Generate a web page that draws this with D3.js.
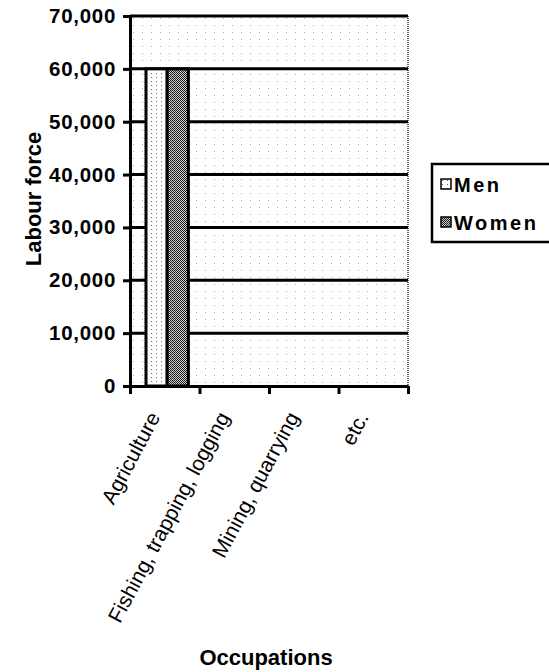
<!DOCTYPE html>
<html>
<head>
<meta charset="utf-8">
<script src="https://cdn.jsdelivr.net/npm/d3@7"></script>
<style>
  body { margin: 0; background: #fff; }
  text { font-family: "Liberation Sans", Arial, sans-serif; fill: #000; }
</style>
</head>
<body>
<div id="chart"></div>
<script>
// chart values
var categories = ["Agriculture", "Fishing, trapping, logging", "Mining, quarrying", "etc."];
var seriesNames = ["Men", "Women"];
var menValues = [60000, 0, 0, 0];
var womenValues = [60000, 0, 0, 0];
var yTicks = [0, 10000, 20000, 30000, 40000, 50000, 60000, 70000];

var data = categories.map(function(c, i) {
  return {cat: c, Men: menValues[i], Women: womenValues[i]};
});

var W = 549, H = 672;
var margin = {top: 16, left: 130, right: 141, bottom: 286};
var width = W - margin.left - margin.right,
    height = H - margin.top - margin.bottom;

var svg = d3.select("#chart").append("svg")
  .attr("width", W)
  .attr("height", H);

// fill patterns
var defs = svg.append("defs");
var bg = defs.append("pattern").attr("id", "bgDots")
  .attr("width", 9).attr("height", 7).attr("patternUnits", "userSpaceOnUse");
bg.append("rect").attr("width", 9).attr("height", 7).attr("fill", "#fff");
bg.append("rect").attr("x", 3).attr("y", 2).attr("width", 1).attr("height", 1).attr("fill", "#aaa");

var menPat = defs.append("pattern").attr("id", "menFill")
  .attr("width", 5).attr("height", 4).attr("patternUnits", "userSpaceOnUse");
menPat.append("rect").attr("width", 5).attr("height", 4).attr("fill", "#fff");
menPat.append("rect").attr("x", 1).attr("y", 1).attr("width", 1).attr("height", 1).attr("fill", "#666");

var womenPat = defs.append("pattern").attr("id", "womenFill")
  .attr("width", 2).attr("height", 2).attr("patternUnits", "userSpaceOnUse");
womenPat.append("rect").attr("width", 2).attr("height", 2).attr("fill", "#d0d0d0");
womenPat.append("rect").attr("width", 1).attr("height", 1).attr("fill", "#111");
womenPat.append("rect").attr("x", 1).attr("y", 1).attr("width", 1).attr("height", 1).attr("fill", "#222");

var colors = {Men: "url(#menFill)", Women: "url(#womenFill)"};

var g = svg.append("g")
  .attr("transform", "translate(" + margin.left + "," + margin.top + ")");

var x = d3.scaleBand()
  .domain(categories)
  .range([0, width])
  .padding(0);

var x1 = d3.scaleBand()
  .domain(seriesNames)
  .range([x.bandwidth() * 0.23, x.bandwidth() * 0.84]);

var y = d3.scaleLinear()
  .domain([0, 70000])
  .range([height, 0]);

// plot background
g.append("rect")
  .attr("width", width)
  .attr("height", height)
  .attr("fill", "url(#bgDots)");

// right border (dotted)
g.append("line")
  .attr("x1", width).attr("x2", width)
  .attr("y1", 0).attr("y2", height)
  .attr("stroke", "#333")
  .attr("stroke-width", 1.5)
  .attr("stroke-dasharray", "1,1");

// gridlines
g.selectAll(".grid")
  .data(yTicks.filter(function(d) { return d > 0; }))
  .enter().append("line")
    .attr("x1", 0).attr("x2", width)
    .attr("y1", function(d) { return y(d); })
    .attr("y2", function(d) { return y(d); })
    .attr("stroke", "#000")
    .attr("stroke-width", 3);

// bars
var groups = g.selectAll(".grp")
  .data(data)
  .enter().append("g")
    .attr("transform", function(d) { return "translate(" + x(d.cat) + ",0)"; });

groups.selectAll("rect")
  .data(function(d) { return seriesNames.map(function(s) { return {key: s, value: d[s]}; }); })
  .enter().append("rect")
    .filter(function(d) { return d.value > 0; })
    .attr("x", function(d) { return x1(d.key); })
    .attr("y", function(d) { return y(d.value); })
    .attr("width", x1.bandwidth())
    .attr("height", function(d) { return height - y(d.value); })
    .attr("fill", function(d) { return colors[d.key]; })
    .attr("stroke", "#000")
    .attr("stroke-width", 3);

// y axis
var yAxis = g.append("g")
  .call(d3.axisLeft(y).tickValues(yTicks).tickFormat(d3.format(",")).tickSize(7).tickPadding(7));
yAxis.select(".domain").attr("stroke-width", 3);
yAxis.selectAll(".tick line").attr("stroke-width", 3);
yAxis.selectAll(".tick text")
  .attr("font-size", 20.5)
  .attr("font-weight", "bold")
  .attr("letter-spacing", 0.7)
  .attr("font-family", "Liberation Sans, Arial, sans-serif")
  .attr("fill", "#000");

// x axis: ticks at category boundaries
var xEdge = d3.scaleLinear().domain([0, categories.length]).range([0, width]);
var xAxis = g.append("g")
  .attr("transform", "translate(0," + height + ")")
  .call(d3.axisBottom(xEdge).ticks(categories.length).tickFormat("").tickSize(8).tickSizeOuter(0));
xAxis.select(".domain").attr("stroke-width", 3);
xAxis.selectAll(".tick line").attr("stroke-width", 3);

// category labels
g.selectAll(".xlab")
  .data(categories)
  .enter().append("text")
    .attr("transform", function(d) {
      return "translate(" + (x(d) + x.bandwidth() / 2 - 4) + "," + (height + 31) + ") rotate(-62)";
    })
    .attr("text-anchor", "end")
    .attr("font-size", 21)
    .text(function(d) { return d; });

// axis titles
svg.append("text")
  .attr("transform", "translate(41," + (margin.top + height / 2 - 2) + ") rotate(-90)")
  .attr("text-anchor", "middle")
  .attr("font-size", 22)
  .attr("font-weight", "bold")
  .text("Labour force");

svg.append("text")
  .attr("x", 266)
  .attr("y", 665)
  .attr("text-anchor", "middle")
  .attr("font-size", 22)
  .attr("font-weight", "bold")
  .text("Occupations");

// legend
var legend = svg.append("g").attr("transform", "translate(432,164)");
legend.append("rect")
  .attr("width", 140).attr("height", 78)
  .attr("fill", "#fff")
  .attr("stroke", "#000")
  .attr("stroke-width", 2.5);

var items = legend.selectAll(".item")
  .data(seriesNames)
  .enter().append("g")
    .attr("transform", function(d, i) { return "translate(9," + (15 + i * 38) + ")"; });
items.append("rect")
  .attr("width", 10).attr("height", 10)
  .attr("fill", function(d) { return colors[d]; })
  .attr("stroke", "#000")
  .attr("stroke-width", 1.5);
items.append("text")
  .attr("x", 13)
  .attr("y", 13)
  .attr("font-size", 20)
  .attr("font-weight", "bold")
  .attr("letter-spacing", 2.5)
  .text(function(d) { return d; });
</script>
</body>
</html>
